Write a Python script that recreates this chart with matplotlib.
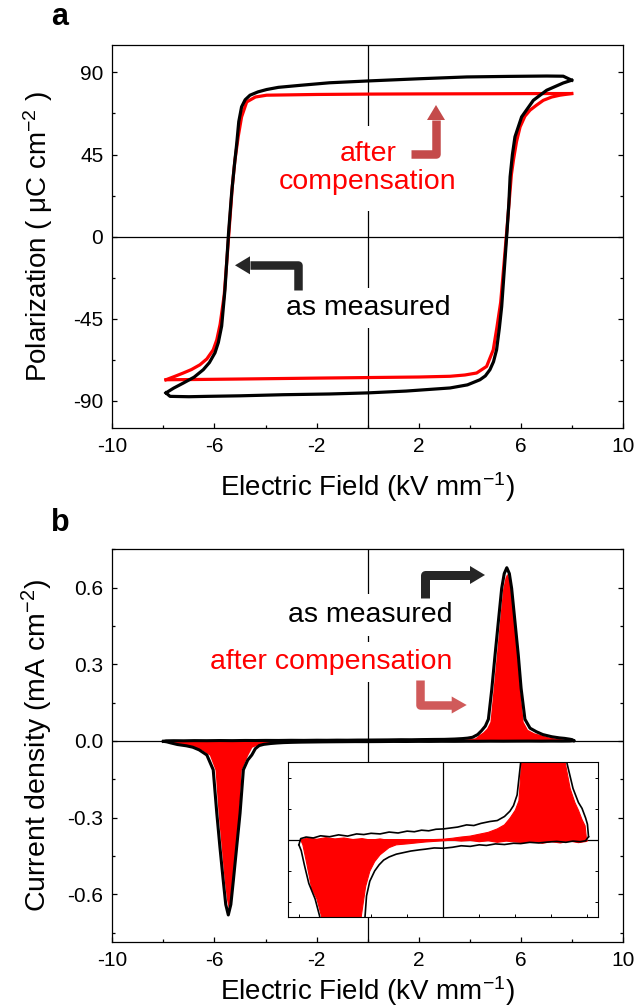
import matplotlib

matplotlib.use("Agg")

import matplotlib.pyplot as plt
from matplotlib.lines import Line2D
from matplotlib.patches import Polygon
from matplotlib.ticker import FixedLocator, FormatStrFormatter, MultipleLocator
from matplotlib.transforms import Affine2D

plt.rcParams["font.family"] = ["Liberation Sans", "DejaVu Sans"]
plt.rcParams["mathtext.fontset"] = "custom"
plt.rcParams["mathtext.rm"] = "Liberation Sans"
plt.rcParams["mathtext.it"] = "Liberation Sans:italic"
plt.rcParams["mathtext.bf"] = "Liberation Sans:bold"
plt.rcParams["axes.unicode_minus"] = False

W, H = 636, 1008

X_MAJOR = [-10, -6, -2, 2, 6, 10]
X_MINOR = [-8, -4, 0, 4, 8]

# ---- panel a: P-E loops (kV/mm, uC/cm2) ----
loop_black_up_x = [7.98, 7.65, 7.0, 5.5, 3.87, 2.0, 0.0, -1.5, -2.65, -3.5, -3.96, -4.3, -4.61, -4.8,
                   -4.94, -5.05, -5.13, -5.23, -5.33, -5.45, -5.59, -5.72, -5.85, -5.98, -6.2, -6.44,
                   -6.8, -7.22, -7.6, -7.9]
loop_black_up_y = [85.7, 87.9, 88.0, 87.8, 87.5, 86.5, 85.3, 84.3, 82.9, 81.8, 80.6, 79.3, 77.5, 75.0,
                   71.1, 63.0, 51.0, 38.0, 23.7, 2.0, -29.0, -49.0, -58.0, -63.6, -69.0, -72.9,
                   -77.0, -80.2, -83.0, -85.6]
loop_black_lo_x = [-7.9, -7.74, -7.0, -6.3, -5.0, -3.31, -1.5, 0.0, 1.5, 3.22, 3.9, 4.39, 4.6, 4.78,
                   4.92, 5.04, 5.15, 5.24, 5.37, 5.45, 5.52, 5.57, 5.66, 5.76, 6.02, 6.48, 7.0, 7.65, 7.98]
loop_black_lo_y = [-85.6, -87.5, -87.7, -87.5, -87.2, -86.6, -86.2, -85.6, -84.6, -82.9, -81.2, -78.4,
                   -76.3, -72.9, -68.5, -62.0, -50.0, -38.3, -12.7, 3.0, 18.0, 32.8, 45.0, 54.7, 65.6,
                   74.7, 80.2, 84.2, 85.7]
loop_red_up_x = [7.98, 7.0, 5.0, 2.0, 0.0, -2.0, -3.96, -4.4, -4.74, -4.94, -5.07, -5.2, -5.3, -5.39,
                 -5.5, -5.62, -5.78, -5.91, -6.05, -6.3, -6.57, -6.9, -7.22, -7.6, -7.9]
loop_red_up_y = [78.4, 78.4, 78.3, 78.2, 78.1, 77.9, 77.5, 76.5, 73.8, 65.6, 55.0, 41.9, 28.0, 10.9,
                 -10.0, -32.0, -48.0, -56.5, -62.0, -67.0, -70.2, -72.8, -74.7, -76.8, -78.4]
loop_red_lo_x = [-7.9, -7.0, -5.0, -2.0, 0.0, 2.0, 3.22, 3.8, 4.26, 4.65, 4.91, 5.05, 5.2, 5.33, 5.45,
                 5.55, 5.62, 5.7, 5.82, 5.96, 6.15, 6.35, 6.6, 6.87, 7.2, 7.52, 7.98]
loop_red_lo_y = [-78.4, -78.3, -78.0, -77.5, -77.2, -76.9, -76.5, -75.8, -74.7, -71.1, -62.0, -50.0,
                 -36.0, -15.0, 5.0, 22.0, 34.0, 42.0, 52.0, 60.1, 66.0, 69.3, 72.0, 74.7, 76.5, 77.5, 78.4]

# ---- panel b: switching current (kV/mm, mA/cm2) ----
cur_black_inc_x = [-8.0, -7.9, -7.6, -7.2, -6.8, -6.3, -5.8, -5.3, -4.8, -4.4, -4.0, -3.5, -3.0, -2.5,
                   -2.0, -1.6, -1.2, -0.8, -0.4, 0.0, 0.4, 0.8, 1.3, 1.7, 2.1, 2.6, 3.0, 3.4, 3.7, 3.9,
                   4.1, 4.3, 4.45, 4.6, 4.72, 4.85, 4.98, 5.11, 5.24, 5.34, 5.44, 5.54, 5.63, 5.76, 5.89,
                   6.0, 6.15, 6.35, 6.6, 6.85, 7.2, 7.5, 7.7, 7.9, 8.0, 8.06]
cur_black_inc_y = [-0.0016, 0.0004, 0.0009, 0.0006, 0.0013, 0.0010, 0.0016, 0.0012, 0.0019, 0.0017,
                   0.0021, 0.0019, 0.0025, 0.0022, 0.0028, 0.0026, 0.0031, 0.0029, 0.0034, 0.0035,
                   0.0038, 0.0041, 0.0048, 0.0046, 0.0053, 0.0059, 0.0062, 0.0075, 0.0092, 0.0110,
                   0.0144, 0.025, 0.040, 0.058, 0.085, 0.20, 0.336, 0.467, 0.597, 0.655, 0.678, 0.655,
                   0.597, 0.467, 0.336, 0.206, 0.085, 0.050, 0.036, 0.025, 0.0165, 0.0120, 0.0101,
                   0.0070, 0.0050, 0.0010]
cur_black_dec_x = [8.06, 7.9, 7.6, 7.2, 6.8, 6.3, 5.8, 5.3, 4.8, 4.3, 3.9, 3.4, 2.9, 2.4, 2.0, 1.5, 1.0,
                   0.5, 0.0, -0.5, -1.0, -1.3, -1.8, -2.2, -2.6, -3.0, -3.3, -3.55, -3.8, -4.07, -4.25,
                   -4.4, -4.54, -4.7, -4.87, -5.0, -5.13, -5.26, -5.36, -5.46, -5.56, -5.66, -5.79,
                   -5.91, -6.05, -6.3, -6.6, -6.85, -7.1, -7.45, -7.7, -7.87, -8.0]
cur_black_dec_y = [0.0010, -0.0003, -0.0006, -0.0004, -0.0008, -0.0005, -0.0007, -0.0010, -0.0008,
                   -0.0012, -0.0011, -0.0015, -0.0013, -0.0018, -0.0016, -0.0021, -0.0019, -0.0024,
                   -0.0027, -0.0026, -0.0030, -0.0032, -0.0036, -0.0041, -0.0046, -0.0055, -0.0065,
                   -0.0080, -0.0100, -0.0133, -0.0180, -0.030, -0.055, -0.075, -0.113, -0.283, -0.413,
                   -0.544, -0.640, -0.681, -0.640, -0.544, -0.413, -0.283, -0.113, -0.055, -0.035,
                   -0.0245, -0.0190, -0.0140, -0.0080, -0.0035, -0.0016]
cur_red_inc_x = [-7.9, -7.5, -7.0, -6.5, -6.0, -5.5, -5.0, -4.5, -4.0, -3.5, -3.0, -2.5, -2.0, -1.5,
                 -1.0, -0.5, 0.0, 0.5, 1.0, 1.5, 2.0, 2.5, 3.0, 3.4, 3.7, 4.0, 4.2, 4.35, 4.5, 4.65,
                 4.78, 4.9, 5.03, 5.15, 5.28, 5.37, 5.44, 5.51, 5.6, 5.72, 5.84, 5.95, 6.08, 6.25, 6.5,
                 6.76, 7.04, 7.3, 7.5, 7.7, 7.87, 7.96]
cur_red_inc_y = [0.0000, 0.0006, 0.0002, 0.0007, 0.0003, 0.0006, 0.0001, 0.0004, -0.0001, 0.0003,
                 -0.0002, 0.0001, -0.0003, 0.0000, -0.0002, 0.0001, 0.0002, 0.0005, 0.0009, 0.0012,
                 0.0018, 0.0024, 0.0035, 0.0048, 0.0069, 0.0095, 0.0125, 0.025, 0.035, 0.050, 0.076,
                 0.20, 0.336, 0.467, 0.597, 0.640, 0.656, 0.640, 0.597, 0.467, 0.336, 0.206, 0.076,
                 0.045, 0.032, 0.025, 0.0165, 0.0120, 0.0095, 0.0065, 0.0045, -0.0005]
cur_red_dec_x = [7.96, 7.5, 7.0, 6.5, 6.0, 5.5, 5.0, 4.5, 4.0, 3.5, 3.0, 2.5, 2.0, 1.5, 1.0, 0.5, 0.0,
                 -0.5, -1.0, -1.5, -2.0, -2.6, -3.0, -3.5, -3.8, -4.07, -4.3, -4.54, -4.7, -4.95,
                 -5.05, -5.18, -5.3, -5.39, -5.46, -5.53, -5.62, -5.74, -5.86, -5.98, -6.2, -6.5,
                 -6.75, -7.0, -7.3, -7.55, -7.78, -7.9]
cur_red_dec_y = [-0.0005, -0.0009, -0.0004, -0.0010, -0.0006, -0.0011, -0.0005, -0.0009, -0.0007,
                 -0.0004, -0.0008, -0.0003, -0.0006, -0.0002, -0.0004, -0.0001, -0.0003, -0.0005,
                 -0.0007, -0.0010, -0.0013, -0.0016, -0.0025, -0.0048, -0.0070, -0.0101, -0.0150,
                 -0.0245, -0.055, -0.113, -0.283, -0.413, -0.544, -0.620, -0.655, -0.620, -0.544,
                 -0.413, -0.283, -0.113, -0.055, -0.035, -0.0245, -0.0190, -0.0154, -0.0080, -0.0016,
                 0.0]

XLABEL = "Electric Field (kV mm$^{-1}$)"


def style_axis(ax, major_y, minor_y):
    ax.set_xlim(-10, 10)
    ax.xaxis.set_major_locator(FixedLocator(X_MAJOR))
    ax.xaxis.set_minor_locator(FixedLocator(X_MINOR))
    ax.yaxis.set_major_locator(MultipleLocator(major_y))
    ax.yaxis.set_minor_locator(MultipleLocator(minor_y))
    ax.tick_params(which="both", direction="in", right=True, top=False, width=0.9,
                   labelsize=15, pad=6.5)
    ax.tick_params(which="major", length=3.6)
    ax.tick_params(which="minor", length=2.2)
    for spine in ax.spines.values():
        spine.set_linewidth(0.9)
    ax.axhline(0, color="black", lw=0.9, zorder=1)
    ax.axvline(0, color="black", lw=0.9, zorder=1)


def bent_arrow(fig, start, corner, tip, color, width, head_w, head_l):
    # start / corner / tip given in pixels from the top-left of the canvas
    px = Affine2D().scale(1 / W, -1 / H).translate(0, 1) + fig.transFigure
    dx, dy = tip[0] - corner[0], tip[1] - corner[1]
    norm = (dx ** 2 + dy ** 2) ** 0.5
    ux, uy = dx / norm, dy / norm
    bx, by = tip[0] - ux * head_l, tip[1] - uy * head_l
    stem = Line2D([start[0], corner[0], bx], [start[1], corner[1], by], color=color,
                  lw=width * 0.72, solid_joinstyle="round", solid_capstyle="butt",
                  transform=px, zorder=6)
    fig.add_artist(stem)
    nx, ny = -uy * head_w / 2, ux * head_w / 2
    head = Polygon([tip, (bx + nx, by + ny), (bx - nx, by - ny)], closed=True,
                   facecolor=color, edgecolor="none", transform=px, zorder=6)
    fig.add_artist(head)


fig = plt.figure(figsize=(W / 100, H / 100), dpi=100)
ax1 = fig.add_axes([112.3 / W, 1 - 428.3 / H, 511 / W, 383.3 / H])
ax2 = fig.add_axes([112.3 / W, 1 - 942.3 / H, 511 / W, 393 / H])

# panel a
style_axis(ax1, 45, 22.5)
ax1.set_ylim(-105, 105)
ax1.plot(loop_red_up_x, loop_red_up_y, color="#ff0000", lw=2.3, zorder=4)
ax1.plot(loop_red_lo_x, loop_red_lo_y, color="#ff0000", lw=2.3, zorder=4)
ax1.plot(loop_black_up_x, loop_black_up_y, color="black", lw=2.3, zorder=5)
ax1.plot(loop_black_lo_x, loop_black_lo_y, color="black", lw=2.3, zorder=5)
ax1.text(0.0, 37.5, "after\ncompensation", color="#ff0000", fontsize=20.5, ha="center",
         va="center", linespacing=1.1, zorder=3,
         bbox=dict(facecolor="white", edgecolor="none", pad=11))
ax1.text(0.0, -39.2, "as measured", color="black", fontsize=20.5, ha="center", va="center",
         zorder=3, bbox=dict(facecolor="white", edgecolor="none", pad=5))
ax1.set_ylabel("Polarization ( μC cm$^{-2}$ )", fontsize=20)
ax1.yaxis.set_label_coords(-0.146, 0.5)
ax1.yaxis.label.set_va("center")
ax1.set_xlabel(XLABEL, fontsize=20)
ax1.xaxis.set_label_coords(0.5, -0.153)
ax1.xaxis.label.set_va("center")

# panel b
style_axis(ax2, 0.3, 0.15)
ax2.set_ylim(-0.788, 0.75)
ax2.yaxis.set_major_formatter(FormatStrFormatter("%.1f"))
for xs, ys in [(cur_red_inc_x, cur_red_inc_y), (cur_red_dec_x, cur_red_dec_y)]:
    ax2.fill_between(xs, ys, 0, color="#ff0000", lw=0, zorder=3)
ax2.plot(cur_black_inc_x, cur_black_inc_y, color="black", lw=2.2, zorder=4)
ax2.plot(cur_black_dec_x, cur_black_dec_y, color="black", lw=2.2, zorder=4)
ax2.text(3.3, 0.493, "as measured", color="black", fontsize=20.5, ha="right", va="center",
         zorder=3, bbox=dict(facecolor="white", edgecolor="none", pad=6))
ax2.text(3.3, 0.309, "after compensation", color="#ff0000", fontsize=20.5, ha="right",
         va="center", zorder=3, bbox=dict(facecolor="white", edgecolor="none", pad=5))
ax2.set_ylabel("Current density (mA cm$^{-2}$)", fontsize=20.5)
ax2.yaxis.set_label_coords(-0.146, 0.5)
ax2.yaxis.label.set_va("center")
ax2.set_xlabel(XLABEL, fontsize=20)
ax2.xaxis.set_label_coords(0.5, -0.123)
ax2.xaxis.label.set_va("center")

# inset: zoom on the baseline
ins = ax2.inset_axes([0.344, 0.065, 0.607, 0.393])
ins.set_zorder(7)
ins.set_facecolor("white")
ins.set_xlim(-8.6, 8.6)
ins.set_ylim(-0.0247, 0.0249)
ins.xaxis.set_major_locator(MultipleLocator(2))
ins.yaxis.set_major_locator(MultipleLocator(0.01))
ins.tick_params(direction="in", length=2.5, width=0.7, right=True, top=False,
                labelleft=False, labelbottom=False)
for spine in ins.spines.values():
    spine.set_linewidth(0.8)
ins.axhline(0, color="black", lw=0.9, zorder=1)
ins.axvline(0, color="black", lw=0.9, zorder=1)
for xs, ys in [(cur_red_inc_x, cur_red_inc_y), (cur_red_dec_x, cur_red_dec_y)]:
    ins.fill_between(xs, ys, 0, color="#ff0000", lw=0.8, edgecolor="#ff0000", zorder=2)
ins.plot(cur_black_inc_x, cur_black_inc_y, color="black", lw=1.2, zorder=4)
ins.plot(cur_black_dec_x, cur_black_dec_y, color="black", lw=1.2, zorder=4)

# bent callout arrows
bent_arrow(fig, (297.7, 290), (297.7, 265.3), (235, 265.3), "#262626", 8.5, 18, 15)
bent_arrow(fig, (410.7, 154), (436, 154), (436, 105), "#c44a4a", 8.5, 18, 15)
bent_arrow(fig, (425, 597.7), (425, 575), (485, 575), "#262626", 9, 18, 15)
bent_arrow(fig, (419.5, 680), (419.5, 705), (466.7, 705), "#d05a5a", 8.5, 17, 15)

fig.text(60 / W, 1 - 17 / H, "a", fontsize=22, fontweight="bold", ha="center", va="center")
fig.text(60 / W, 1 - 523 / H, "b", fontsize=22, fontweight="bold", ha="center", va="center")

fig.savefig("out.png", dpi=100)
